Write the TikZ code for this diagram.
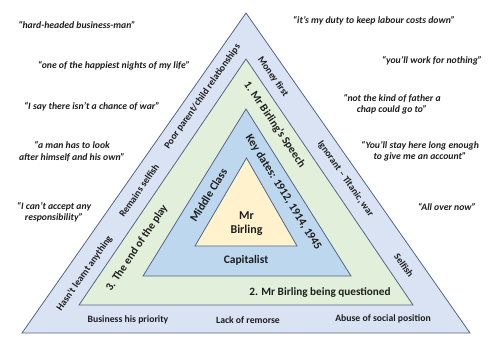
\documentclass[tikz,border=0pt]{standalone}
\usepackage{fontspec}
\setmainfont{Carlito}
\definecolor{edge}{RGB}{84,102,136}
\definecolor{outerfill}{RGB}{218,227,243}
\definecolor{greenfill}{RGB}{226,239,218}
\definecolor{bluefill}{RGB}{189,215,238}
\definecolor{yellowfill}{RGB}{255,242,204}
\definecolor{ink}{RGB}{30,30,30}
\tikzset{
  tri/.style={draw=edge, line width=0.8pt, line join=miter},
  quote/.style={font=\fontsize{9.7}{11.5}\selectfont\bfseries\itshape, align=center, text=ink, inner sep=0pt},
  outlab/.style={font=\fontsize{9.7}{11}\selectfont\bfseries, text=ink, inner sep=0pt},
  grnlab/.style={font=\fontsize{11.2}{13}\selectfont\bfseries, text=ink, inner sep=0pt},
  blulab/.style={font=\fontsize{11.5}{13}\selectfont\bfseries, text=ink, inner sep=0pt},
  corelab/.style={font=\fontsize{12}{14}\selectfont\bfseries, text=ink, align=center, inner sep=0pt}
}
\begin{document}
\begin{tikzpicture}[x=1pt, y=-1pt]
\useasboundingbox (0,0) rectangle (500,346);
% triangles
\draw[tri, fill=outerfill] (246,13) -- (470,333) -- (22,333) -- cycle;
\draw[tri, fill=greenfill] (246,59) -- (413,305) -- (79,305) -- cycle;
\draw[tri, fill=bluefill] (246,109) -- (351,276) -- (143,276) -- cycle;
\draw[tri, fill=yellowfill] (246.5,158) -- (297,246) -- (195,246) -- cycle;
% core
\node[corelab] (core) at (246.5,224) {Mr\\Birling};
% blue band
\node[blulab, rotate=58] (middle) at (208.5,195) {Middle Class};
\node[blulab, rotate=-58] (keydates) at (283.5,192.5) {Key dates: 1912, 1914, 1945};
\node[blulab] (capitalist) at (246,260) {Capitalist};
% green band
\node[grnlab, rotate=-56] (speech) at (274.5,124.5) {1. Mr Birling’s Speech};
\node[grnlab, rotate=56] (endplay) at (137,248) {3. The end of the play};
\node[grnlab] (questioned) at (320,292.5) {2. Mr Birling being questioned};
% outer band
\node[outlab, rotate=55] (poor) at (202.5,96.5) {Poor parent/child relationships};
\node[outlab, rotate=55] (remains) at (139,190.5) {Remains selfish};
\node[outlab, rotate=55] (hasnt) at (84.5,273.5) {Hasn’t learnt anything};
\node[outlab, rotate=-55] (money) at (273,77) {Money first};
\node[outlab, rotate=-55] (ignorant) at (345.5,179) {Ignorant – Titanic, war};
\node[outlab, rotate=-55] (selfish) at (404,265.5) {Selfish};
\node[outlab] (business) at (128,320) {Business his priority};
\node[outlab] (remorse) at (248,320) {Lack of remorse};
\node[outlab] (abuse) at (383,319) {Abuse of social position};
% quotes left
\node[quote] (q1) at (77,25) {“hard-headed business-man”};
\node[quote] (q2) at (114,66) {“one of the happiest nights of my life”};
\node[quote] (q3) at (92,107) {“I say there isn’t a chance of war”};
\node[quote] (q4) at (72,151.5) {“a man has to look\\after himself and his own”};
\node[quote] (q5) at (54,212) {“I can’t accept any\\responsibility”};
% quotes right
\node[quote] (q6) at (374,21) {“it’s my duty to keep labour costs down”};
\node[quote] (q7) at (432,61) {“you’ll work for nothing”};
\node[quote] (q8) at (392,104) {“not the kind of father a\\chap could go to”};
\node[quote] (q9) at (420,151) {“You’ll stay here long enough\\to give me an account”};
\node[quote] (q10) at (447,206.5) {“All over now”};
\end{tikzpicture}
\end{document}
